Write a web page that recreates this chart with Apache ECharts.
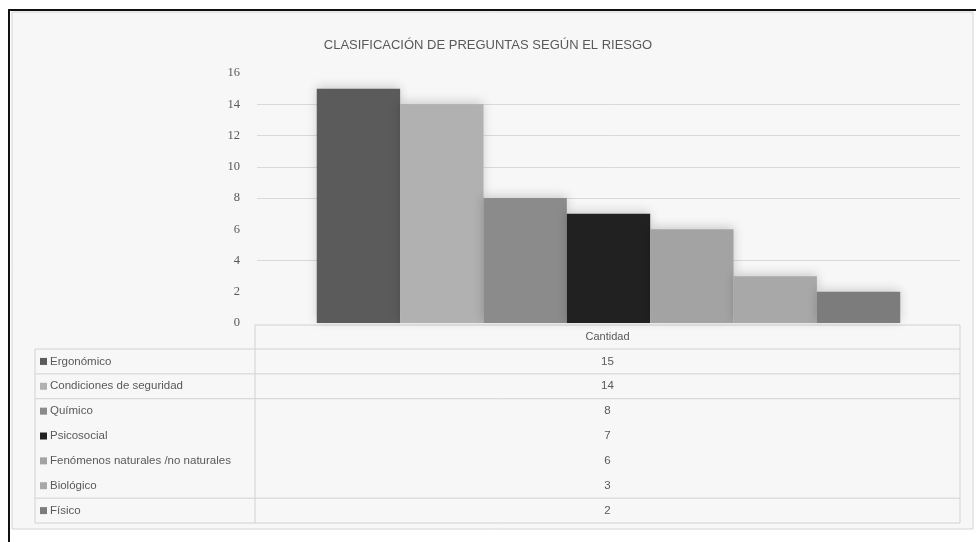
<!DOCTYPE html>
<html>
<head>
<meta charset="utf-8">
<script src="https://cdn.jsdelivr.net/npm/echarts@6/dist/echarts.min.js"></script>
<style>
html,body{margin:0;padding:0;background:#fff;overflow:hidden;}
#frame{position:absolute;left:8px;top:9px;width:990px;height:560px;border:2px solid #111;box-sizing:border-box;}
#c{position:absolute;left:0;top:0;width:976px;height:542px;}
</style>
</head>
<body>
<div id="frame"></div>
<div id="c"></div>
<script>
const titleText = 'CLASIFICACIÓN DE PREGUNTAS SEGÚN EL RIESGO';
const categories = ['Cantidad'];
const seriesNames = ['Ergonómico','Condiciones de seguridad','Químico','Psicosocial','Fenómenos naturales /no naturales','Biológico','Físico'];
const seriesValues = [15, 14, 8, 7, 6, 3, 2];
const seriesColors = ['#5b5b5b','#b1b1b1','#8b8b8b','#212121','#a3a3a3','#a8a8a8','#7c7c7c'];
const yMax = 16, yInterval = 2;
const visibleGridValues = [14, 12, 10, 8, 4];

const chart = echarts.init(document.getElementById('c'));
const font = 'Liberation Sans Narrow, Liberation Sans, sans-serif';
const gridL = 257, gridR = 16, gridT = 73, gridB = 219;
const tabLeft = 35, tabMid = 255, tabRight = 960;
const headTop = 325, headBot = 349, rowH = 24.86;
const lineColor = '#d2d2d2';

const graphics = [];
graphics.push({type:'rect', z:-10, shape:{x:12,y:12,width:961,height:517}, style:{fill:'#f7f7f7', stroke:'#d4d4d4', lineWidth:1}});
function hline(x1,x2,y){graphics.push({type:'line', z:5, shape:{x1:x1,y1:y,x2:x2,y2:y}, style:{stroke:lineColor,lineWidth:1}});}
function vline(x,y1,y2){graphics.push({type:'line', z:5, shape:{x1:x,y1:y1,x2:x,y2:y2}, style:{stroke:lineColor,lineWidth:1}});}
const tabBottom = headBot + rowH*seriesNames.length;
hline(tabMid, tabRight, headTop);
hline(tabLeft, tabRight, headBot);
const ruledRows = [1, 2, 6, 7];
ruledRows.forEach(i => hline(tabLeft, tabRight, headBot + rowH*i));
vline(tabLeft, headBot, tabBottom);
vline(tabMid, headTop, tabBottom);
vline(tabRight, headTop, tabBottom);
graphics.push({type:'text', z:6, style:{text:categories[0], x:(tabMid+tabRight)/2, y:(headTop+headBot)/2, align:'center', verticalAlign:'middle', fill:'#595959', font:'11px ' + font}});
seriesNames.forEach((n,i) => {
  const cy = headBot + rowH*i + rowH/2;
  graphics.push({type:'rect', z:6, shape:{x:tabLeft+5, y:cy-3.5, width:7, height:7}, style:{fill:seriesColors[i]}});
  graphics.push({type:'text', z:6, style:{text:n, x:tabLeft+15, y:cy, align:'left', verticalAlign:'middle', fill:'#595959', font:'11.5px ' + font}});
  graphics.push({type:'text', z:6, style:{text:String(seriesValues[i]), x:(tabMid+tabRight)/2, y:cy, align:'center', verticalAlign:'middle', fill:'#595959', font:'11.5px ' + font}});
});

const series = seriesNames.map((n,i) => ({
  name: n, type: 'bar', z: 20,
  data: [seriesValues[i]],
  barGap: '0%', barCategoryGap: '17%',
  itemStyle: {color: seriesColors[i], shadowBlur: 10, shadowColor: 'rgba(0,0,0,0.18)', shadowOffsetY: -2},
  emphasis: {disabled: true}
}));
series.push({
  type: 'line', z: 1, data: [], silent: true,
  markLine: {silent: true, z: 1, symbol: 'none', label: {show: false},
    lineStyle: {color: '#d9d9d9', width: 1, type: 'solid'},
    data: visibleGridValues.map(v => ({yAxis: v}))}
});

chart.setOption({
  animation: false,
  backgroundColor: 'transparent',
  title: {text: titleText, left: 'center', top: 34, textStyle: {fontFamily: font, fontSize: 13, fontWeight: 'normal', color: '#595959'}},
  grid: {left: gridL, right: gridR, top: gridT, bottom: gridB},
  xAxis: {type: 'category', data: categories, axisLine: {show: false}, axisTick: {show: false}, axisLabel: {show: false}},
  yAxis: {type: 'value', min: 0, max: yMax, interval: yInterval,
    axisLine: {show: false}, axisTick: {show: false}, splitLine: {show: false},
    axisLabel: {color: '#595959', fontFamily: 'Liberation Serif, serif', fontSize: 12.5, margin: 17}},
  series: series,
  graphic: graphics
});
</script>
</body>
</html>
